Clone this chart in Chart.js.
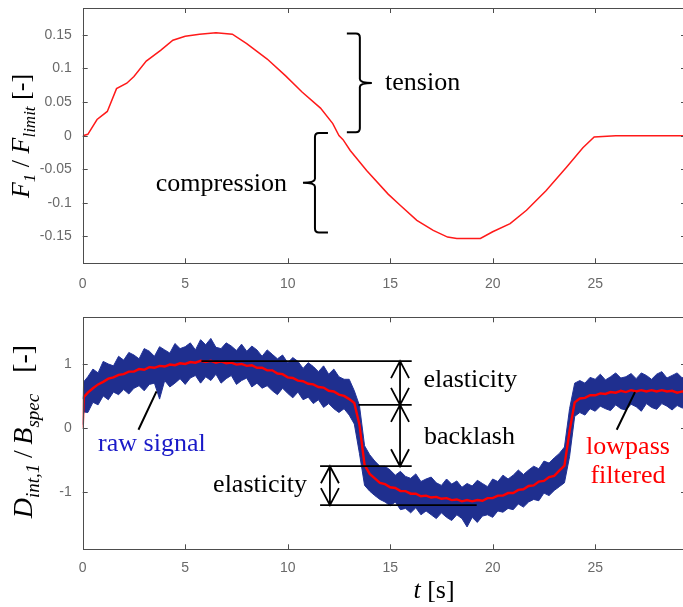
<!DOCTYPE html>
<html>
<head>
<meta charset="utf-8">
<script src="https://cdn.jsdelivr.net/npm/chart.js@4.4.1/dist/chart.umd.min.js"></script>
<style>
  html, body { margin: 0; padding: 0; background: #fff; width: 683px; height: 607px; overflow: hidden; }
  #top { position: absolute; left: 0; top: 0; width: 690px; height: 300px; }
  #bottom { position: absolute; left: 0; top: 300px; width: 690px; height: 307px; }
</style>
</head>
<body>
<div id="top"><canvas id="forceChart"></canvas></div>
<div id="bottom"><canvas id="signalChart"></canvas></div>
<script>
// ---- top plot: F1 / Flimit over time ----
const forceTime  = [0, 0.25, 0.7, 1.2, 1.65, 2.15, 2.5, 3.1, 3.8, 4.4, 5.0, 5.7, 6.5, 7.3, 8.0, 9.0, 9.9, 10.7,
                    11.6, 12.2, 12.5, 12.7, 13.05, 13.85, 14.9, 15.5, 16.3, 17.1, 17.8, 18.25, 19.4, 20.0,
                    20.85, 21.65, 22.6, 23.6, 24.4, 24.95, 26.0, 29.5];
const forceRatio = [0, 0.002, 0.024, 0.036, 0.07, 0.078, 0.088, 0.111, 0.127, 0.142, 0.148, 0.151, 0.153, 0.151,
                    0.137, 0.114, 0.089, 0.065, 0.041, 0.018, 0.0, -0.006, -0.022, -0.052, -0.087, -0.104,
                    -0.126, -0.141, -0.151, -0.153, -0.153, -0.143, -0.131, -0.111, -0.082, -0.047, -0.018,
                    -0.002, 0.0, 0.0];
const forceTicks = [-0.15, -0.1, -0.05, 0, 0.05, 0.1, 0.15];
const timeTicks  = [0, 5, 10, 15, 20, 25];

// ---- bottom plot: D_int,1 / B_spec ----
// sample times: 0, 0.05, then every 0.25 s up to 29.5
const sigTime = [0, 0.05].concat(Array.from({ length: 118 }, (_, i) => (i + 1) * 0.25));
// raw signal, upper and lower edge of the noise band (one group per second)
const rawHigh = [
  0.45, 0.72, 0.80, 0.92, 0.86,
  1.04, 1.00, 0.97, 1.12,   1.06, 1.18, 1.14, 1.08,   1.24, 1.20, 1.12, 1.27,   1.22, 1.17, 1.32, 1.24,
  1.27, 1.33, 1.22, 1.38,   1.30, 1.40, 1.26, 1.24,   1.33, 1.28, 1.21, 1.31,   1.20, 1.28, 1.22, 1.12,
  1.22, 1.15, 1.08, 1.14,   1.02, 1.10, 1.04, 0.93,   1.02, 0.96, 0.88, 0.97,   0.84, 0.92, 0.80, 0.76,
  0.76, 0.58, 0.35, -0.28,  -0.42, -0.52, -0.60, -0.60, -0.66, -0.74, -0.68, -0.76, -0.79, -0.72, -0.84, -0.80,
  -0.77, -0.86, -0.90, -0.80, -0.88, -0.83, -0.93, -0.87, -0.91, -0.82, -0.87, -0.92, -0.80, -0.84, -0.74, -0.80,
  -0.74, -0.66, -0.73, -0.66, -0.60, -0.64, -0.52, -0.55, -0.47, -0.40, -0.30, 0.30,  0.70, 0.74, 0.70, 0.79,
  0.76, 0.84, 0.75, 0.80,   0.86, 0.78, 0.80, 0.85,   0.77, 0.86, 0.82, 0.76,   0.84, 0.88, 0.78, 0.82,
  0.86, 0.78, 0.88
];
const rawLow = [
  0.05, 0.25, 0.24, 0.40, 0.36,
  0.50, 0.44, 0.56, 0.52,   0.60, 0.53, 0.62, 0.66,   0.58, 0.68, 0.70, 0.45,   0.74, 0.64, 0.70, 0.77,
  0.68, 0.78, 0.82, 0.70,   0.80, 0.74, 0.84, 0.70,   0.77, 0.82, 0.68, 0.74,   0.78, 0.64, 0.70, 0.62,
  0.66, 0.58, 0.52, 0.62,   0.54, 0.47, 0.56, 0.44,   0.48, 0.38, 0.44, 0.32,   0.38, 0.30, 0.24, 0.30,
  0.20, 0.06, -0.40, -0.90, -0.99, -1.06, -1.12, -1.16, -1.22, -1.16, -1.28, -1.26, -1.33, -1.25, -1.36, -1.30,
  -1.36, -1.42, -1.33, -1.40, -1.45, -1.36, -1.42, -1.55, -1.40, -1.48, -1.38, -1.36, -1.40, -1.30, -1.32, -1.26,
  -1.28, -1.19, -1.24, -1.16, -1.12, -1.14, -1.02, -1.06, -0.98, -0.92, -0.86, -0.45,  0.18, 0.24, 0.20, 0.30,
  0.26, 0.34, 0.30, 0.27,   0.36, 0.30, 0.28, 0.37,   0.33, 0.26, 0.38, 0.32,   0.29, 0.38, 0.34, 0.28,
  0.35, 0.31, 0.35
];
// lowpass filtered signal
const lowpass = [
  0.00, 0.48, 0.55, 0.62, 0.68,
  0.72, 0.77, 0.79, 0.83,   0.84, 0.88, 0.88, 0.92,   0.91, 0.95, 0.94, 0.97,   0.96, 0.99, 0.98, 1.01,
  1.00, 1.03, 1.02, 1.05,   1.03, 1.05, 1.02, 1.04,   1.01, 1.02, 0.99, 1.00,   0.97, 0.98, 0.94, 0.94,
  0.90, 0.90, 0.85, 0.84,   0.79, 0.78, 0.74, 0.73,   0.69, 0.68, 0.64, 0.63,   0.58, 0.57, 0.52, 0.50,
  0.45, 0.39, 0.05, -0.58,  -0.72, -0.79, -0.86, -0.88, -0.93, -0.94, -0.99, -0.99, -1.03, -1.03, -1.07, -1.06,
  -1.09, -1.08, -1.11, -1.10, -1.13, -1.12, -1.15, -1.13, -1.15, -1.13, -1.14, -1.10, -1.10, -1.06, -1.06, -1.02,
  -1.02, -0.97, -0.96, -0.91, -0.90, -0.84, -0.83, -0.77, -0.75, -0.67, -0.59, -0.05,  0.40, 0.46, 0.47, 0.51,
  0.51, 0.54, 0.53, 0.56,   0.55, 0.58, 0.56, 0.59,   0.57, 0.59, 0.57, 0.59,   0.57, 0.59, 0.57, 0.58,
  0.55, 0.57, 0.56
];
const signalTicks = [-1, 0, 1];

// ---- annotations (data coordinates) ----
const braces = [
  { x: 13.52, y1: 0.152, y2: 0.005, dir: 1 },
  { x: 11.33, y1: 0.004, y2: -0.144, dir: -1 }
];
const forceNotes = [
  { text: 'tension', x: 14.75, y: 0.078, align: 'left' },
  { text: 'compression', x: 9.97, y: -0.072, align: 'right' }
];
const levelLines = [
  { y: 1.044, x1: 5.79, x2: 16.05 },
  { y: 0.36, x1: 13.45, x2: 16.05 },
  { y: -0.60, x1: 11.58, x2: 16.05 },
  { y: -1.21, x1: 11.58, x2: 19.22 }
];
const spanArrows = [
  { x: 15.48, y1: 1.044, y2: 0.36 },
  { x: 15.48, y1: 0.36, y2: -0.60 },
  { x: 12.06, y1: -0.60, y2: -1.21 }
];
const pointers = [
  { x1: 2.72, y1: -0.03, x2: 3.6, y2: 0.57 },
  { x1: 26.05, y1: -0.03, x2: 26.94, y2: 0.56 }
];
const signalNotes = [
  { text: 'elasticity', x: 16.62, y: 0.74, align: 'left' },
  { text: 'backlash', x: 16.65, y: -0.15, align: 'left' },
  { text: 'elasticity', x: 10.94, y: -0.90, align: 'right' },
  { text: 'raw signal', x: 0.75, y: -0.26, align: 'left', color: '#1a1ac8' },
  { text: 'lowpass', x: 26.6, y: -0.30, align: 'center', color: '#ff0000' },
  { text: 'filtered', x: 26.6, y: -0.76, align: 'center', color: '#ff0000' }
];

const SERIF = '"Liberation Serif", "Times New Roman", serif';
const SANS = '"Liberation Sans", Arial, sans-serif';
const AXIS_COLOR = '#4d4d4d';
const TICK_COLOR = '#6a6a6a';

const xy = (xs, ys) => xs.map((x, i) => ({ x, y: ys[i] }));

// box around the plot area with inward tick marks on all four sides
const framePlugin = {
  id: 'frame',
  afterDraw(chart) {
    const { ctx, chartArea: a, scales } = chart;
    ctx.save();
    ctx.strokeStyle = AXIS_COLOR;
    ctx.lineWidth = 1;
    ctx.strokeRect(Math.round(a.left) + 0.5, Math.round(a.top) + 0.5,
                   Math.round(a.right - a.left), Math.round(a.bottom - a.top));
    ctx.beginPath();
    scales.x.ticks.forEach(t => {
      const px = Math.round(scales.x.getPixelForValue(t.value)) + 0.5;
      ctx.moveTo(px, a.bottom); ctx.lineTo(px, a.bottom - 5);
      ctx.moveTo(px, a.top); ctx.lineTo(px, a.top + 5);
    });
    scales.y.ticks.forEach(t => {
      const py = Math.round(scales.y.getPixelForValue(t.value)) + 0.5;
      ctx.moveTo(a.left, py); ctx.lineTo(a.left + 5, py);
      ctx.moveTo(a.right, py); ctx.lineTo(a.right - 5, py);
    });
    ctx.stroke();
    ctx.restore();
  }
};

function richText(ctx, parts, cx, cy, rotate) {
  ctx.save();
  ctx.translate(cx, cy);
  if (rotate) ctx.rotate(-Math.PI / 2);
  let w = 0;
  parts.forEach(p => { ctx.font = p.font; w += ctx.measureText(p.text).width; });
  let x = -w / 2;
  ctx.fillStyle = '#000';
  ctx.textBaseline = 'alphabetic';
  parts.forEach(p => {
    ctx.font = p.font;
    ctx.fillText(p.text, x, p.dy || 0);
    x += ctx.measureText(p.text).width;
  });
  ctx.restore();
}

function note(ctx, chart, n) {
  const X = chart.scales.x, Y = chart.scales.y;
  ctx.font = '26px ' + SERIF;
  ctx.fillStyle = n.color || '#000';
  ctx.textAlign = n.align;
  ctx.textBaseline = 'middle';
  ctx.fillText(n.text, X.getPixelForValue(n.x), Y.getPixelForValue(n.y));
}

function baseOptions(yMin, yMax, yTicks, padTop, xAxisHeight, xPad) {
  return {
    responsive: true,
    maintainAspectRatio: false,
    animation: false,
    events: [],
    layout: { padding: { top: padTop, right: 4, left: 0, bottom: 0 } },
    plugins: { legend: { display: false }, tooltip: { enabled: false } },
    elements: { point: { radius: 0 }, line: { tension: 0 } },
    scales: {
      x: {
        type: 'linear', min: 0, max: 29.43,
        afterBuildTicks: s => { s.ticks = timeTicks.map(v => ({ value: v })); },
        afterFit: s => { s.height = xAxisHeight; s.paddingLeft = 0; s.paddingRight = 0; },
        grid: { display: false, drawTicks: false },
        border: { display: false },
        ticks: { color: TICK_COLOR, font: { family: SANS, size: 14 }, padding: xPad,
                 maxRotation: 0, autoSkip: false, callback: v => String(v) }
      },
      y: {
        type: 'linear', min: yMin, max: yMax,
        afterBuildTicks: s => { s.ticks = yTicks.map(v => ({ value: v })); },
        afterFit: s => { s.width = 82.7; s.paddingTop = 0; s.paddingBottom = 0; },
        grid: { display: false, drawTicks: false },
        border: { display: false },
        ticks: { color: TICK_COLOR, font: { family: SANS, size: 14 }, padding: 11,
                 autoSkip: false, callback: v => String(v) }
      }
    }
  };
}

// ---- top chart ----
new Chart(document.getElementById('forceChart'), {
  type: 'line',
  data: {
    datasets: [{
      label: 'F1 / Flimit',
      data: xy(forceTime, forceRatio),
      borderColor: '#ff1a1a',
      borderWidth: 1.5
    }]
  },
  options: baseOptions(-0.19, 0.19, forceTicks, 8, 36.7, 12),
  plugins: [framePlugin, {
    id: 'forceNotes',
    afterDraw(chart) {
      const { ctx } = chart;
      const X = chart.scales.x, Y = chart.scales.y;
      ctx.save();
      ctx.strokeStyle = '#000';
      ctx.lineWidth = 2;
      braces.forEach(b => {
        const xs = X.getPixelForValue(b.x), y1 = Y.getPixelForValue(b.y1), y2 = Y.getPixelForValue(b.y2);
        const ym = (y1 + y2) / 2, d = b.dir, arm = 13, tip = 12, r = 4;
        ctx.beginPath();
        ctx.moveTo(xs - d * arm, y1);
        ctx.lineTo(xs - d * r, y1);
        ctx.quadraticCurveTo(xs, y1, xs, y1 + r);
        ctx.lineTo(xs, ym - r);
        ctx.quadraticCurveTo(xs, ym, xs + d * tip, ym);
        ctx.moveTo(xs + d * tip, ym);
        ctx.quadraticCurveTo(xs, ym, xs, ym + r);
        ctx.lineTo(xs, y2 - r);
        ctx.quadraticCurveTo(xs, y2, xs - d * r, y2);
        ctx.lineTo(xs - d * arm, y2);
        ctx.stroke();
      });
      forceNotes.forEach(n => note(ctx, chart, n));
      ctx.restore();
      richText(ctx, [
        { text: 'F', font: 'italic 26px ' + SERIF },
        { text: '1', font: 'italic 17px ' + SERIF, dy: 6 },
        { text: ' / ', font: '26px ' + SERIF },
        { text: 'F', font: 'italic 26px ' + SERIF },
        { text: 'limit', font: 'italic 17px ' + SERIF, dy: 6 },
        { text: ' [-]', font: '26px ' + SERIF }
      ], 29, 136, true);
    }
  }]
});

// ---- bottom chart ----
new Chart(document.getElementById('signalChart'), {
  type: 'line',
  data: {
    datasets: [
      {
        label: 'lowpass filtered',
        data: xy(sigTime, lowpass),
        borderColor: '#ff0000',
        borderWidth: 2.4,
        order: 0
      },
      {
        label: 'raw signal',
        data: xy(sigTime, rawHigh),
        borderColor: '#22339a',
        backgroundColor: '#1f2f8f',
        borderWidth: 1,
        fill: '+1',
        order: 1
      },
      {
        label: 'raw signal (lower)',
        data: xy(sigTime, rawLow),
        borderColor: '#22339a',
        borderWidth: 1,
        fill: false,
        order: 2
      }
    ]
  },
  options: baseOptions(-1.9, 1.73, signalTicks, 17.3, 57.7, 10),
  plugins: [framePlugin, {
    id: 'signalNotes',
    afterDraw(chart) {
      const { ctx } = chart;
      const X = chart.scales.x, Y = chart.scales.y;
      ctx.save();
      ctx.strokeStyle = '#000';
      ctx.lineWidth = 1.8;
      ctx.beginPath();
      levelLines.forEach(l => {
        const py = Y.getPixelForValue(l.y);
        ctx.moveTo(X.getPixelForValue(l.x1), py);
        ctx.lineTo(X.getPixelForValue(l.x2), py);
      });
      spanArrows.forEach(a => {
        const px = X.getPixelForValue(a.x), y1 = Y.getPixelForValue(a.y1), y2 = Y.getPixelForValue(a.y2);
        const hw = 9, hl = 17;
        ctx.moveTo(px, y1); ctx.lineTo(px, y2);
        ctx.moveTo(px - hw, y1 + hl); ctx.lineTo(px, y1); ctx.lineTo(px + hw, y1 + hl);
        ctx.moveTo(px - hw, y2 - hl); ctx.lineTo(px, y2); ctx.lineTo(px + hw, y2 - hl);
      });
      ctx.stroke();
      ctx.lineWidth = 2;
      ctx.beginPath();
      pointers.forEach(p => {
        ctx.moveTo(X.getPixelForValue(p.x1), Y.getPixelForValue(p.y1));
        ctx.lineTo(X.getPixelForValue(p.x2), Y.getPixelForValue(p.y2));
      });
      ctx.stroke();
      signalNotes.forEach(n => note(ctx, chart, n));
      ctx.restore();
      richText(ctx, [
        { text: 'D', font: 'italic 28px ' + SERIF },
        { text: 'int,1', font: 'italic 19px ' + SERIF, dy: 7 },
        { text: '\u2009/\u2009', font: '28px ' + SERIF },
        { text: 'B', font: 'italic 28px ' + SERIF },
        { text: 'spec', font: 'italic 19px ' + SERIF, dy: 7 },
        { text: '   [-]', font: '28px ' + SERIF }
      ], 32, 131.5, true);
      richText(ctx, [
        { text: 't', font: 'italic 26px ' + SERIF },
        { text: ' [s]', font: '26px ' + SERIF }
      ], 434, 298, false);
    }
  }]
});
</script>
</body>
</html>
